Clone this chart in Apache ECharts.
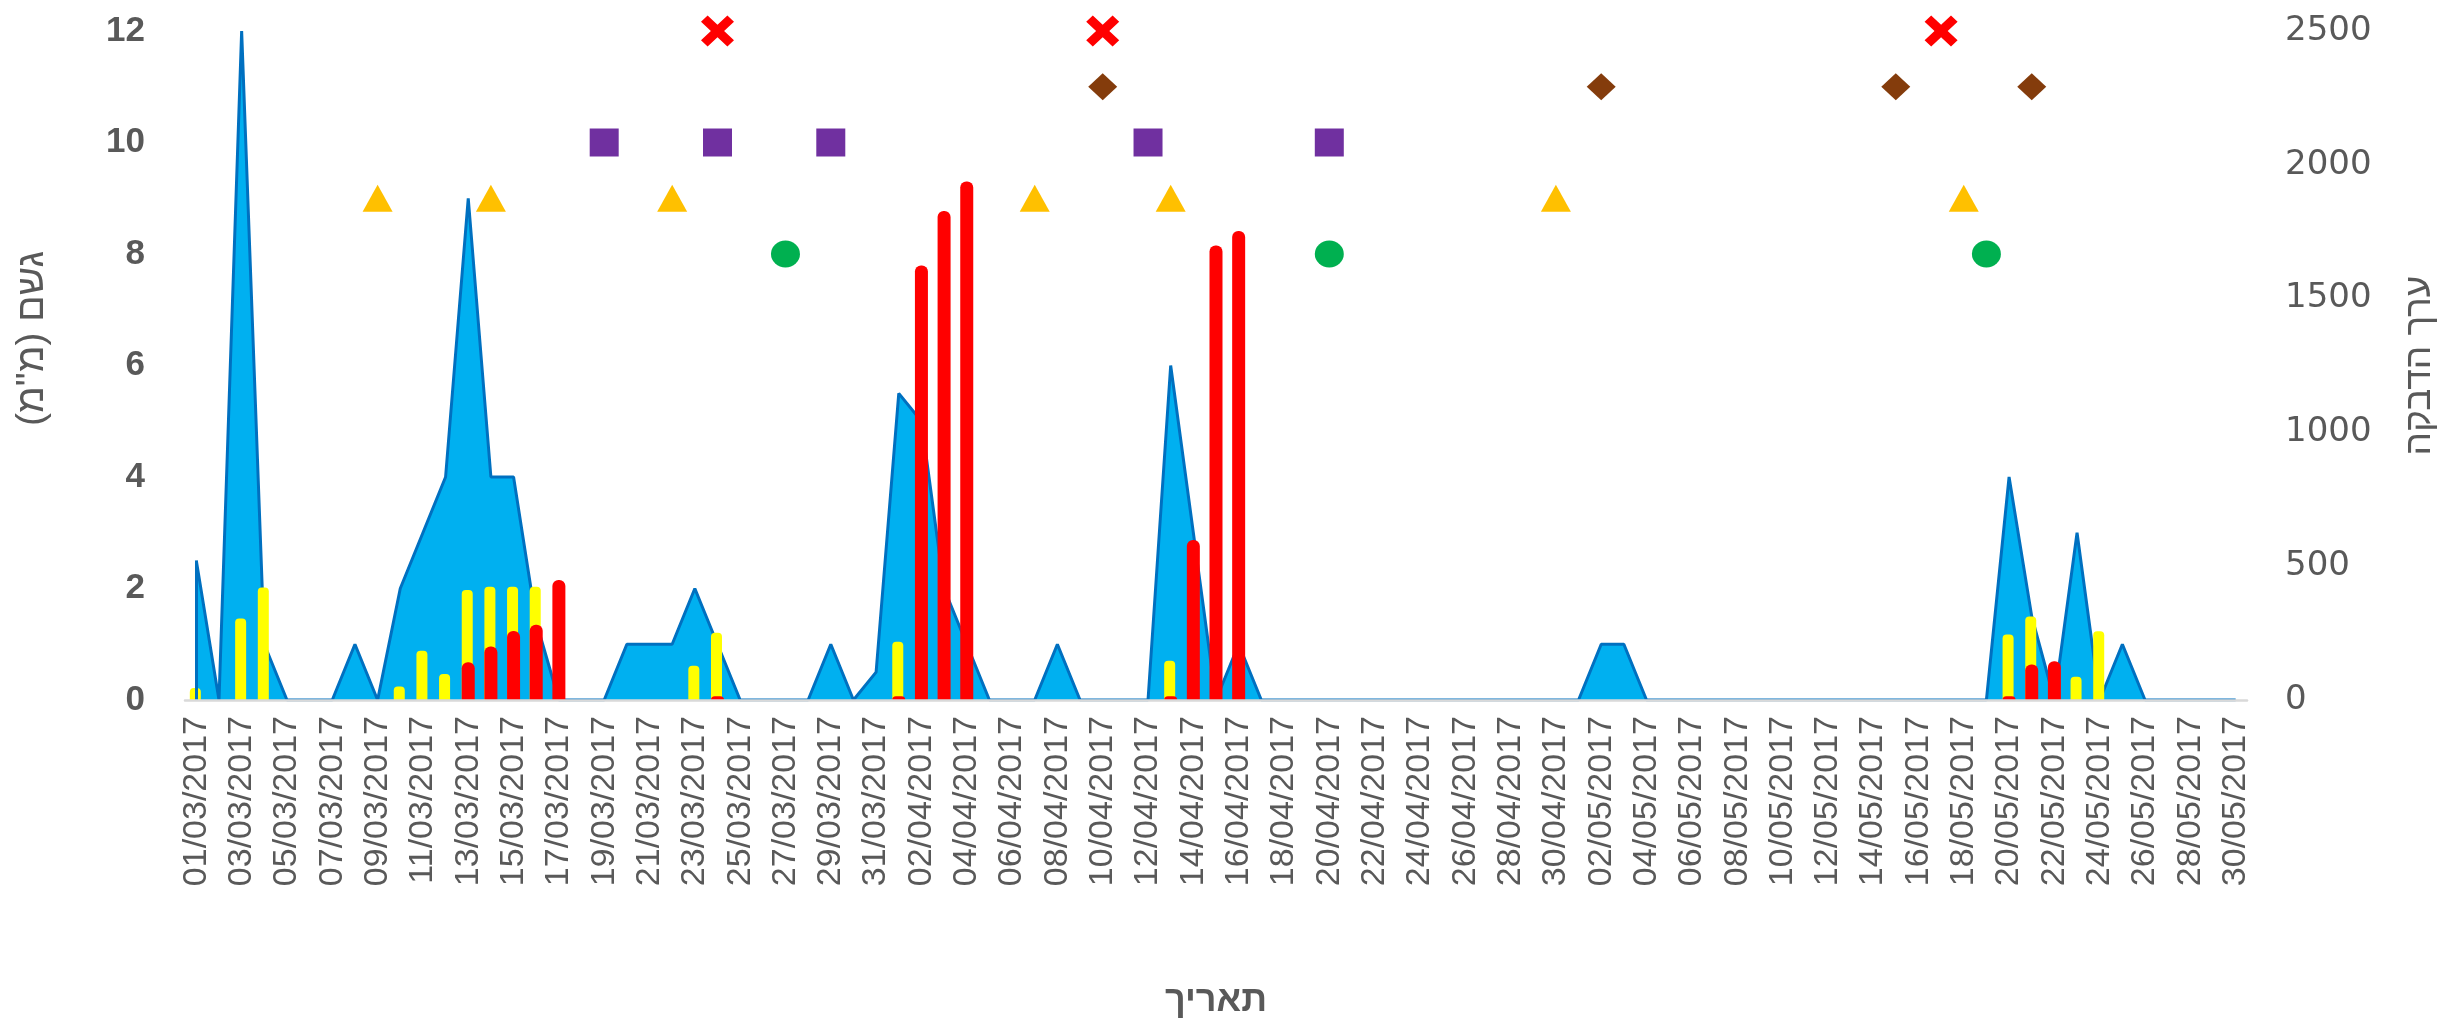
<!DOCTYPE html>
<html>
<head>
<meta charset="utf-8">
<script src="https://cdn.jsdelivr.net/npm/echarts/dist/echarts.min.js"></script>
<style>
html,body{margin:0;padding:0;background:#ffffff;}
#chart{width:2446px;height:1027px;}
</style>
</head>
<body>
<div id="chart"></div>
<script>
// ---------- categories: daily dates 01/03/2017 .. 30/05/2017 ----------
const monthLengths = [[3, 31], [4, 30], [5, 30]];
const dates = [];
monthLengths.forEach(function (m) {
  for (let d = 1; d <= m[1]; d++) {
    dates.push((d < 10 ? '0' + d : '' + d) + '/0' + m[0] + '/2017');
  }
});

// ---------- rainfall (mm), one value per day ----------
const rain = [
  2.5, 0, 12, 1, 0, 0, 0, 1, 0, 2, 3, 4, 9, 4, 4, 1.4, 0, 0, 0, 1,
  1, 1, 2, 1, 0, 0, 0, 0, 1, 0, 0.5, 5.5, 5, 2, 1, 0, 0, 0, 1, 0,
  0, 0, 0, 6, 3, 0, 1, 0, 0, 0, 0, 0, 0, 0, 0, 0, 0, 0, 0, 0,
  0, 0, 1, 1, 0, 0, 0, 0, 0, 0, 0, 0, 0, 0, 0, 0, 0, 0, 0, 0,
  4, 1.5, 0, 3, 0, 1, 0, 0, 0, 0, 0
];

// ---------- infection value, yellow bars ----------
const yellowDates = ['01/03/2017', '03/03/2017', '04/03/2017', '10/03/2017', '11/03/2017', '12/03/2017',
  '13/03/2017', '14/03/2017', '15/03/2017', '16/03/2017', '23/03/2017', '24/03/2017', '01/04/2017',
  '13/04/2017', '20/05/2017', '21/05/2017', '23/05/2017', '24/05/2017'];
const yellowValues = [45, 305, 420, 50, 184, 97, 411, 423, 423, 423, 128, 251, 218, 147, 245, 312, 87, 257];

// ---------- infection value, red bars ----------
const redDates = ['13/03/2017', '14/03/2017', '15/03/2017', '16/03/2017', '17/03/2017', '24/03/2017',
  '01/04/2017', '02/04/2017', '03/04/2017', '04/04/2017', '13/04/2017', '14/04/2017', '15/04/2017',
  '16/04/2017', '20/05/2017', '21/05/2017', '22/05/2017'];
const redValues = [141, 200, 258, 281, 448, 14, 14, 1624, 1827, 1938, 14, 598, 1698, 1753, 14, 133, 145];

// ---------- event markers (dates and their level on the rain axis) ----------
const crossDates = ['24/03/2017', '10/04/2017', '17/05/2017'];
const crossLevel = 12;
const diamondDates = ['10/04/2017', '02/05/2017', '15/05/2017', '21/05/2017'];
const diamondLevel = 11;
const squareDates = ['19/03/2017', '24/03/2017', '29/03/2017', '12/04/2017', '20/04/2017'];
const squareLevel = 10;
const triangleDates = ['09/03/2017', '14/03/2017', '22/03/2017', '07/04/2017', '13/04/2017', '30/04/2017', '18/05/2017'];
const triangleLevel = 9;
const circleDates = ['27/03/2017', '20/04/2017', '19/05/2017'];
const circleLevel = 8;

// ---------- axis ticks ----------
const leftTicks = { min: 0, max: 12, interval: 2 };
const rightTicks = { min: 0, max: 2500, interval: 500 };

// ---------- build ----------
const FONT = "'Liberation Sans', 'DejaVu Sans', Arial, sans-serif";
const GREY = '#595959';
const pairs = function (ds, vs) { return ds.map(function (d, i) { return [d, vs[i]]; }); };
const level = function (ds, v) { return ds.map(function (d) { return [d, v]; }); };
const crossPath = 'path://M2,0 L5,3 L8,0 L10,2 L7,5 L10,8 L8,10 L5,7 L2,10 L0,8 L3,5 L0,2 Z';

const chart = echarts.init(document.getElementById('chart'), null, { renderer: 'canvas' });
chart.setOption({
  animation: false,
  backgroundColor: '#ffffff',
  grid: { left: 185, right: 198, top: 31, bottom: 327, containLabel: false },
  xAxis: {
    type: 'category',
    data: dates,
    boundaryGap: true,
    z: 5,
    axisLine: { show: true, lineStyle: { color: '#D9D9D9', width: 2.5 } },
    axisTick: { show: false },
    axisLabel: { interval: 1, rotate: 90, margin: 16, color: GREY, fontSize: 34, fontFamily: FONT },
    splitLine: { show: false },
    name: 'תאריך',
    nameLocation: 'middle',
    nameGap: 283,
    nameTextStyle: { color: GREY, fontSize: 36, fontWeight: 'bold', fontFamily: FONT }
  },
  yAxis: [
    {
      type: 'value', position: 'left',
      min: leftTicks.min, max: leftTicks.max, interval: leftTicks.interval,
      axisLine: { show: false }, axisTick: { show: false }, splitLine: { show: false },
      axisLabel: { margin: 40, color: GREY, fontSize: 35, fontWeight: 'bold', fontFamily: FONT },
      name: 'גשם (מ"מ)', nameLocation: 'middle', nameRotate: 90, nameGap: 133,
      nameTextStyle: { color: GREY, fontSize: 39, fontFamily: FONT, padding: [0, 0, 0, 54] }
    },
    {
      type: 'value', position: 'right',
      min: rightTicks.min, max: rightTicks.max, interval: rightTicks.interval,
      axisLine: { show: false }, axisTick: { show: false }, splitLine: { show: false },
      axisLabel: {
        margin: 38, color: GREY, fontSize: 34, fontFamily: "'DejaVu Sans', sans-serif",
        formatter: function (v) { return String(v); }
      },
      name: 'ערך הדבקה', nameLocation: 'middle', nameRotate: 90, nameGap: 154,
      nameTextStyle: { color: GREY, fontSize: 37, fontFamily: FONT }
    }
  ],
  series: [
    {
      name: 'rain', type: 'line', yAxisIndex: 0, data: rain, symbol: 'none', z: 1,
      lineStyle: { color: '#0070C0', width: 3 },
      areaStyle: { color: '#00B0F0', opacity: 1 },
      markLine: {
        silent: true, symbol: 'none', label: { show: false },
        lineStyle: { color: '#0070C0', width: 3, type: 'solid' },
        data: [[{ coord: [dates[0], 0] }, { coord: [dates[0], rain[0]] }]]
      }
    },
    {
      name: 'yellow', type: 'bar', yAxisIndex: 1, barWidth: 11, barGap: '-100%', z: 2,
      data: pairs(yellowDates, yellowValues),
      itemStyle: { color: '#FFFF00', opacity: 1, borderRadius: [4, 4, 0, 0] }
    },
    {
      name: 'red', type: 'bar', yAxisIndex: 1, barWidth: 13, barGap: '-100%', z: 3,
      data: pairs(redDates, redValues),
      itemStyle: { color: '#FF0000', opacity: 1, borderRadius: [6, 6, 0, 0] }
    },
    {
      name: 'x', type: 'scatter', yAxisIndex: 0, z: 10, symbol: crossPath, symbolSize: [33, 31],
      data: level(crossDates, crossLevel), itemStyle: { color: '#FF0000', opacity: 1 }
    },
    {
      name: 'diamond', type: 'scatter', yAxisIndex: 0, z: 10, symbol: 'diamond', symbolSize: [29, 27],
      data: level(diamondDates, diamondLevel), itemStyle: { color: '#843C0C', opacity: 1 }
    },
    {
      name: 'square', type: 'scatter', yAxisIndex: 0, z: 10, symbol: 'rect', symbolSize: [29, 28],
      data: level(squareDates, squareLevel), itemStyle: { color: '#7030A0', opacity: 1 }
    },
    {
      name: 'triangle', type: 'scatter', yAxisIndex: 0, z: 10, symbol: 'triangle', symbolSize: [30, 27],
      data: level(triangleDates, triangleLevel), itemStyle: { color: '#FFC000', opacity: 1 }
    },
    {
      name: 'circle', type: 'scatter', yAxisIndex: 0, z: 10, symbol: 'circle', symbolSize: [29, 27],
      data: level(circleDates, circleLevel), itemStyle: { color: '#00B050', opacity: 1 }
    }
  ]
});
</script>
</body>
</html>
